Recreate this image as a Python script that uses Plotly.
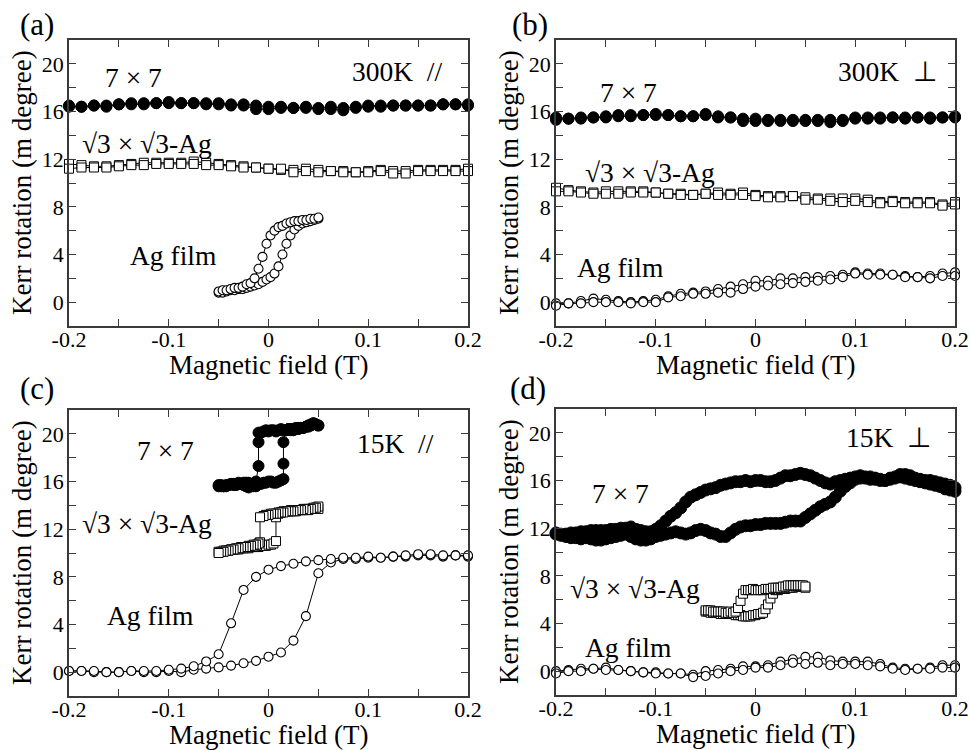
import plotly.graph_objects as go

# ---------------- data ----------------
X33 = [-0.2,-0.1875,-0.175,-0.1625,-0.15,-0.1375,-0.125,-0.1125,-0.1,-0.0875,-0.075,-0.0625,-0.05,
       -0.0375,-0.025,-0.0125,0,0.0125,0.025,0.0375,0.05,0.0625,0.075,0.0875,0.1,0.1125,0.125,
       0.1375,0.15,0.1625,0.175,0.1875,0.2]

X41 = [-0.05,-0.0475,-0.045,-0.0425,-0.04,-0.0375,-0.035,-0.0325,-0.03,-0.0275,-0.025,-0.0225,-0.02,
       -0.0175,-0.015,-0.0125,-0.01,-0.0075,-0.005,-0.0025,0,0.0025,0.005,0.0075,0.01,0.0125,0.015,
       0.0175,0.02,0.0225,0.025,0.0275,0.03,0.0325,0.035,0.0375,0.04,0.0425,0.045,0.0475,0.05]

X81 = [-0.2,-0.195,-0.19,-0.185,-0.18,-0.175,-0.17,-0.165,-0.16,-0.155,
       -0.15,-0.145,-0.14,-0.135,-0.13,-0.125,-0.12,-0.115,-0.11,-0.105,
       -0.1,-0.095,-0.09,-0.085,-0.08,-0.075,-0.07,-0.065,-0.06,-0.055,
       -0.05,-0.045,-0.04,-0.035,-0.03,-0.025,-0.02,-0.015,-0.01,-0.005,
       0,0.005,0.01,0.015,0.02,0.025,0.03,0.035,0.04,0.045,
       0.05,0.055,0.06,0.065,0.07,0.075,0.08,0.085,0.09,0.095,
       0.1,0.105,0.11,0.115,0.12,0.125,0.13,0.135,0.14,0.145,
       0.15,0.155,0.16,0.165,0.17,0.175,0.18,0.185,0.19,0.195,
       0.2]

XA_AG = [-0.05,-0.046,-0.042,-0.038,-0.034,-0.03,-0.026,-0.022,-0.018,-0.014,-0.01,-0.006,-0.002,
         0.002,0.006,0.01,0.014,0.018,0.022,0.026,0.03,0.034,0.038,0.042,0.046,0.05]

# (a) 300K parallel
A_77_1 = [16.4,16.4,16.5,16.5,16.6,16.7,16.7,16.7,16.8,16.7,16.7,16.7,16.7,16.6,16.6,16.5,16.4,
          16.4,16.3,16.4,16.3,16.4,16.3,16.4,16.5,16.5,16.5,16.5,16.5,16.5,16.6,16.6,16.6]
A_77_2 = [16.5,16.4,16.5,16.4,16.6,16.6,16.6,16.7,16.7,16.7,16.7,16.6,16.6,16.5,16.5,16.2,16.2,
          16.3,16.3,16.3,16.2,16.2,16.1,16.3,16.4,16.4,16.5,16.5,16.5,16.5,16.6,16.6,16.5]
A_R3_1 = [11.6,11.5,11.4,11.4,11.5,11.6,11.7,11.7,11.7,11.7,11.8,11.7,11.6,11.5,11.4,11.3,11.2,
          11.1,11.1,11.2,11.1,11.0,11.0,10.9,11.0,11.1,11.0,11.0,11.1,11.1,11.1,11.1,11.2]
A_R3_2 = [11.2,11.3,11.3,11.3,11.4,11.5,11.5,11.6,11.6,11.6,11.6,11.5,11.5,11.4,11.3,11.3,11.2,
          11.2,10.9,11.0,10.9,11.0,10.9,10.9,10.9,11.0,10.8,10.8,11.0,11.0,11.0,11.0,11.0]
A_AG_UP = [0.8,0.8,0.9,1.0,1.0,1.1,1.1,1.2,1.3,1.4,1.5,1.7,1.9,2.1,2.4,3.0,4.0,4.9,5.6,6.1,6.4,
           6.6,6.7,6.8,6.9,7.0]
A_AG_DN = [0.9,1.0,1.0,1.1,1.2,1.2,1.3,1.5,1.6,2.0,2.8,3.8,4.9,5.6,6.0,6.3,6.4,6.6,6.7,6.8,6.8,
           6.9,6.9,7.0,7.0,7.1]

# (b) 300K perpendicular
B_77_1 = [15.5,15.4,15.5,15.5,15.6,15.7,15.7,15.7,15.8,15.7,15.6,15.6,15.7,15.6,15.5,15.4,15.4,
          15.3,15.3,15.3,15.3,15.3,15.3,15.3,15.5,15.5,15.5,15.5,15.5,15.5,15.5,15.5,15.6]
B_77_2 = [15.3,15.4,15.4,15.5,15.5,15.6,15.6,15.7,15.7,15.7,15.6,15.6,15.8,15.5,15.5,15.2,15.2,
          15.2,15.2,15.2,15.2,15.2,15.1,15.2,15.4,15.4,15.4,15.5,15.4,15.5,15.4,15.5,15.5]
B_R3_1 = [9.6,9.4,9.3,9.2,9.3,9.3,9.3,9.3,9.2,9.1,9.1,9.0,9.1,9.2,9.1,9.2,9.0,8.9,8.9,8.9,8.8,
          8.7,8.7,8.7,8.7,8.6,8.4,8.5,8.4,8.4,8.4,8.2,8.4]
B_R3_2 = [9.3,9.3,9.2,9.1,9.1,9.1,9.2,9.2,9.2,9.1,9.0,9.0,9.1,9.0,9.0,9.0,8.9,8.8,8.8,8.9,8.6,
          8.6,8.5,8.4,8.5,8.4,8.3,8.4,8.3,8.3,8.3,8.1,8.2]
B_AG_1 = [-0.1,-0.1,0.1,0.3,0.2,0.1,0.0,0.1,0.2,0.5,0.7,0.8,0.9,1.1,1.3,1.5,1.8,1.8,2.0,2.0,2.1,
          2.1,2.2,2.3,2.5,2.4,2.4,2.3,2.2,2.1,2.2,2.4,2.5]
B_AG_2 = [-0.3,-0.1,-0.1,0.0,0.0,0.0,-0.1,0.0,0.0,0.4,0.5,0.7,0.7,0.8,0.8,1.1,1.3,1.4,1.5,1.6,
          1.7,1.8,1.9,2.1,2.4,2.3,2.3,2.3,2.1,2.1,2.0,2.2,2.2]

# (c) 15K parallel
C_77_UP_X = [-0.05,-0.0475,-0.045,-0.0425,-0.04,-0.0375,-0.035,-0.0325,-0.03,-0.0275,-0.025,-0.0225,
             -0.02,-0.0175,-0.015,-0.0125,-0.01,-0.0075,-0.005,-0.0025,0,0.0025,0.005,0.0075,0.01,
             0.0125,0.015,0.015,0.015,0.0175,0.02,0.0225,0.025,0.0275,0.03,0.0325,0.035,0.0375,
             0.04,0.0425,0.045,0.0475,0.05]
C_77_UP = [15.7,15.6,15.6,15.7,15.7,15.8,15.8,15.7,15.8,15.8,15.9,15.9,15.9,15.7,15.6,15.6,15.8,
           15.8,15.9,15.9,16.0,16.0,15.9,15.9,16.0,16.1,16.2,17.5,19.3,20.3,20.4,20.4,20.3,20.4,
           20.5,20.5,20.5,20.6,20.7,20.8,20.9,20.8,20.7]
C_77_DN_X = [0.05,0.0475,0.045,0.0425,0.04,0.0375,0.035,0.0325,0.03,0.0275,0.025,0.0225,0.02,
             0.0175,0.015,0.0125,0.01,0.0075,0.005,0.0025,0,-0.0025,-0.005,-0.0075,-0.01,-0.01,
             -0.01,-0.0125,-0.015,-0.0175,-0.02,-0.0225,-0.025,-0.0275,-0.03,-0.0325,-0.035,
             -0.0375,-0.04,-0.0425,-0.045,-0.0475,-0.05]
C_77_DN = [20.7,20.8,20.8,20.7,20.6,20.6,20.5,20.5,20.4,20.5,20.4,20.3,20.4,20.3,20.3,20.4,20.3,
           20.2,20.3,20.3,20.2,20.3,20.2,20.1,20.1,19.3,17.3,16.0,15.8,15.6,15.5,15.6,15.7,15.8,
           15.9,15.8,15.7,15.8,15.7,15.6,15.6,15.7,15.6]
C_R3_UP_X = [-0.05,-0.0475,-0.045,-0.0425,-0.04,-0.0375,-0.035,-0.0325,-0.03,-0.0275,-0.025,-0.0225,
             -0.02,-0.0175,-0.015,-0.0125,-0.01,-0.0075,-0.005,-0.0025,0,0.0025,0.005,0.0075,0.0075,
             0.01,0.0125,0.015,0.0175,0.02,0.0225,0.025,0.0275,0.03,0.0325,0.035,0.0375,0.04,
             0.0425,0.045,0.0475,0.05]
C_R3_UP = [10.1,10.1,10.2,10.2,10.2,10.3,10.3,10.3,10.3,10.4,10.4,10.4,10.4,10.5,10.5,10.5,10.5,
           10.6,10.6,10.6,10.7,10.7,10.8,11.0,13.0,13.3,13.4,13.5,13.5,13.5,13.6,13.6,13.5,13.6,
           13.6,13.6,13.7,13.6,13.7,13.7,13.8,13.7]
C_R3_DN_X = [0.05,0.0475,0.045,0.0425,0.04,0.0375,0.035,0.0325,0.03,0.0275,0.025,0.0225,0.02,
             0.0175,0.015,0.0125,0.01,0.0075,0.005,0.0025,0,-0.0025,-0.005,-0.0085,-0.0085,-0.01,
             -0.0125,-0.015,-0.0175,-0.02,-0.0225,-0.025,-0.0275,-0.03,-0.0325,-0.035,-0.0375,
             -0.04,-0.0425,-0.045,-0.0475,-0.05]
C_R3_DN = [13.9,13.8,13.8,13.7,13.7,13.6,13.7,13.6,13.6,13.6,13.5,13.5,13.5,13.5,13.4,13.4,13.4,
           13.3,13.3,13.3,13.2,13.2,13.1,13.0,10.9,10.8,10.7,10.7,10.6,10.6,10.5,10.5,10.5,10.4,
           10.4,10.3,10.3,10.2,10.2,10.1,10.1,10.0]
C_AG_UP = [0.1,0.1,0.0,0.0,0.0,0.1,0.0,0.0,0.1,0.0,0.2,0.3,0.4,0.55,0.75,0.95,1.3,1.65,2.65,4.7,
           8.3,9.2,9.5,9.5,9.6,9.6,9.7,9.7,9.8,9.8,9.7,9.8,9.7]
C_AG_DN = [0.1,0.1,0.1,0.0,0.0,0.1,0.1,0.1,0.2,0.3,0.5,0.9,1.5,4.1,6.9,8.0,8.6,8.9,9.1,9.3,9.4,
           9.5,9.6,9.6,9.7,9.6,9.7,9.8,9.9,9.9,9.8,9.8,9.8]

# (d) 15K perpendicular
D_77_UP = [11.6,11.5,11.5,11.6,11.6,11.7,11.7,11.8,11.8,11.8,
           11.8,11.9,11.9,12.0,12.0,12.1,11.9,11.8,11.7,11.7,
           11.9,12.2,12.6,13.0,13.3,13.7,14.2,14.6,14.8,15.0,
           15.2,15.3,15.4,15.6,15.7,15.8,15.9,15.9,16.0,15.9,
           16.0,16.0,15.9,15.9,16.0,16.2,16.4,16.4,16.5,16.6,
           16.5,16.4,16.2,16.0,15.8,15.7,15.9,16.0,16.1,16.2,
           16.3,16.4,16.3,16.3,16.2,16.1,16.0,16.2,16.3,16.5,
           16.5,16.4,16.2,16.1,16.0,16.0,15.9,15.8,15.7,15.6,
           15.4]
D_77_DN = [11.5,11.4,11.3,11.2,11.2,11.1,11.2,11.1,11.0,11.0,
           11.1,11.2,11.3,11.4,11.5,11.3,11.1,11.0,11.0,11.1,
           11.3,11.4,11.5,11.6,11.7,11.6,11.5,11.6,11.8,11.9,
           11.8,11.6,11.5,11.3,11.3,11.6,11.9,12.1,12.2,12.2,
           12.3,12.3,12.4,12.4,12.4,12.4,12.5,12.6,12.6,12.6,
           12.9,13.2,13.5,13.8,14.0,14.2,14.6,15.1,15.5,15.8,
           16.1,16.2,16.2,16.1,16.1,16.0,16.0,16.1,16.2,16.3,
           16.2,16.1,16.0,15.9,15.8,15.7,15.6,15.5,15.3,15.2,
           15.1]
D_R3_UP = [5.0,5.0,4.9,4.9,4.9,4.9,4.8,4.8,4.8,4.8,
           4.8,4.8,4.7,4.7,4.7,4.6,4.6,4.6,4.6,4.7,
           4.7,4.8,4.8,4.9,5.2,5.6,6.1,6.5,6.8,6.8,
           6.9,6.9,6.9,7.0,7.0,7.0,7.1,7.1,7.1,7.1,
           7.0]
D_R3_DN = [5.1,5.1,5.1,5.0,5.0,5.0,5.0,5.0,4.9,4.9,
           5.0,4.9,5.0,5.3,5.9,6.5,6.8,6.8,6.8,6.9,
           6.8,6.8,6.8,6.8,6.9,6.9,6.9,7.0,7.0,7.0,
           7.0,7.1,7.1,7.2,7.2,7.2,7.2,7.2,7.2,7.2,
           7.1]
D_AG_1 = [0.0,0.1,0.2,0.2,0.3,0.1,0.0,-0.1,-0.1,-0.2,-0.2,-0.3,0.0,0.1,0.2,0.4,0.4,0.5,0.8,1.0,
          1.2,1.2,0.9,0.8,0.8,0.8,0.6,0.3,0.2,0.2,0.3,0.5,0.5]
D_AG_2 = [-0.2,0.0,0.0,0.2,0.1,0.1,0.0,-0.1,-0.2,-0.2,-0.2,-0.5,-0.4,-0.2,0.0,0.1,0.3,0.3,0.5,
          0.7,0.6,0.7,0.5,0.6,0.6,0.5,0.4,0.2,0.1,0.2,0.2,0.3,0.3]

X_TICKS = [-0.2,-0.15,-0.1,-0.05,0,0.05,0.1,0.15,0.2]
X_TICKTEXT = ["-0.2","","-0.1","","0","","0.1","","0.2"]
Y_TICKS = [0,2,4,6,8,10,12,14,16,18,20]
Y_TICKTEXT = ["0","","4","","8","","12","","16","","20"]

PANEL_LABELS = ["(a)", "(b)", "(c)", "(d)"]
COND_LABELS = ["300K  //", "300K  \u22a5", "15K  //", "15K  \u22a5"]
LBL_77 = "7 \u00d7 7"
LBL_R3 = "\u221a3 \u00d7 \u221a3-Ag"
LBL_AG = "Ag film"
X_TITLE = "Magnetic field (T)"
Y_TITLE = "Kerr rotation (m degree)"

# ---------------- figure ----------------
W, H = 970, 750
FONT = "Liberation Serif, Times New Roman, serif"

def px(x):
    return x / W

def py(y):
    return 1 - y / H

# plot-area boxes in pixels: (left, right, top, bottom)
BOXES = [(69, 468, 40, 326), (556, 955, 40, 326), (69, 468, 410, 696), (556, 955, 409, 695)]

fig = go.Figure()

def style(kind):
    if kind == "fill":
        return dict(symbol="circle", size=11, color="black", line=dict(color="black", width=1))
    if kind == "fillbig":
        return dict(symbol="circle", size=12, color="black", line=dict(color="black", width=1))
    if kind == "sq":
        return dict(symbol="square", size=9, color="white", line=dict(color="black", width=1))
    return dict(symbol="circle", size=9, color="white", line=dict(color="black", width=1.1))

def add(i, x, y, kind):
    sfx = "" if i == 0 else str(i + 1)
    fig.add_trace(go.Scatter(x=x, y=y, mode="lines+markers", xaxis="x" + sfx, yaxis="y" + sfx,
                             line=dict(color="black", width=1), marker=style(kind),
                             showlegend=False, hoverinfo="skip", cliponaxis=False))

# (a)
add(0, X33, A_77_1, "fill"); add(0, X33, A_77_2, "fill")
add(0, X33, A_R3_1, "sq"); add(0, X33, A_R3_2, "sq")
add(0, XA_AG, A_AG_UP, "open"); add(0, XA_AG, A_AG_DN, "open")
# (b)
add(1, X33, B_77_1, "fill"); add(1, X33, B_77_2, "fill")
add(1, X33, B_R3_1, "sq"); add(1, X33, B_R3_2, "sq")
add(1, X33, B_AG_1, "open"); add(1, X33, B_AG_2, "open")
# (c)
add(2, C_77_UP_X, C_77_UP, "fill"); add(2, C_77_DN_X, C_77_DN, "fill")
add(2, C_R3_UP_X, C_R3_UP, "sq"); add(2, C_R3_DN_X, C_R3_DN, "sq")
add(2, X33, C_AG_UP, "open"); add(2, X33, C_AG_DN, "open")
# (d)
add(3, X81, D_77_UP, "fillbig"); add(3, X81, D_77_DN, "fillbig")
add(3, X41, D_R3_UP, "sq"); add(3, X41, D_R3_DN, "sq")
add(3, X33, D_AG_1, "open"); add(3, X33, D_AG_2, "open")

axis_common = dict(showline=True, linecolor="#3a3a3a", linewidth=1.5, mirror="ticks",
                   ticks="inside", ticklen=7, tickwidth=1.3, tickcolor="#3a3a3a",
                   showgrid=False, zeroline=False, automargin=False,
                   tickfont=dict(family=FONT, size=22, color="black"))

layout = dict(width=W, height=H, margin=dict(l=0, r=0, t=0, b=0, autoexpand=False),
              paper_bgcolor="white", plot_bgcolor="white", showlegend=False)

for i, (l, r, t, b) in enumerate(BOXES):
    sfx = "" if i == 0 else str(i + 1)
    layout["xaxis" + sfx] = dict(axis_common, domain=[px(l), px(r)], range=[-0.2, 0.2],
                                 anchor="y" + sfx, tickmode="array", tickvals=X_TICKS,
                                 ticktext=X_TICKTEXT, ticklabelstandoff=-7)
    layout["yaxis" + sfx] = dict(axis_common, domain=[py(b), py(t)], range=[-2, 22],
                                 anchor="x" + sfx, tickmode="array", tickvals=Y_TICKS,
                                 ticktext=Y_TICKTEXT, ticklabelstandoff=-1)
fig.update_layout(**layout)

ann = []
def text(x, y, s, size=27.5, **kw):
    ann.append(dict(x=px(x), y=py(y), xref="paper", yref="paper", text=s, showarrow=False,
                    xanchor="center", yanchor="middle",
                    font=dict(family=FONT, size=size, color="black"), **kw))

# panel labels
text(37, 25, PANEL_LABELS[0], 31); text(530, 25, PANEL_LABELS[1], 31)
text(37, 388, PANEL_LABELS[2], 31); text(528, 388, PANEL_LABELS[3], 31)
# axis titles
for (l, r, t, b) in BOXES:
    text((l + r) / 2, b + 39, X_TITLE, 27)
    text(l - 47, (t + b) / 2, Y_TITLE, 27, textangle=-90)
# inner labels
text(397, 72, COND_LABELS[0]); text(887, 72, COND_LABELS[1])
text(395, 443, COND_LABELS[2]); text(888, 437, COND_LABELS[3])
text(133, 78, LBL_77); text(628, 92, LBL_77); text(165, 450, LBL_77); text(620, 493, LBL_77)
text(147, 143, LBL_R3); text(650, 172, LBL_R3); text(147, 523, LBL_R3); text(635, 588, LBL_R3)
text(173, 255, LBL_AG); text(620, 268, LBL_AG); text(150, 615, LBL_AG); text(628, 647, LBL_AG)
fig.update_layout(annotations=ann)

fig.write_html("out.html", config={"displayModeBar": False},
               post_script="document.body.style.margin='0px';")
